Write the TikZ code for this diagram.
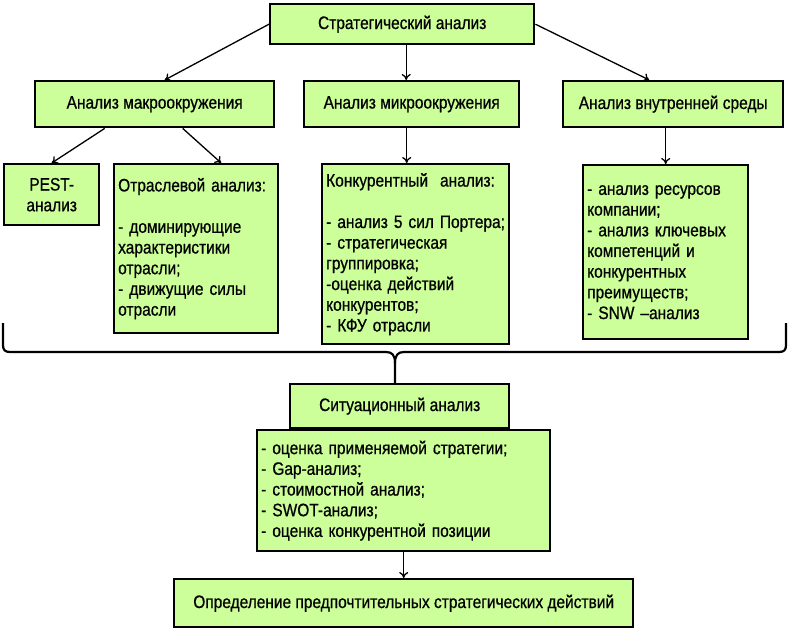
\documentclass[tikz,border=0pt]{standalone}
\usepackage{fontspec}
\setmainfont[FakeStretch=0.86, FakeBold=0.7]{Liberation Sans}
\usetikzlibrary{arrows.meta}
\definecolor{boxgreen}{RGB}{204,255,153}
\tikzset{
  box/.style={draw=black, line width=2.4pt, fill=boxgreen, anchor=north west,
    inner sep=4pt, align=center, font=\fontsize{18}{20.7}\selectfont},
  listbox/.style={box, align=left},
  arr/.style={-{To[length=6pt,width=9pt]}, line width=1.3pt},
  brc/.style={line width=2.2pt, line join=round}
}
\begin{document}
\begin{tikzpicture}[x=1pt, y=-1pt]
        \useasboundingbox (0,0) rectangle (789,628);

        % Top level
        \node[box, minimum width=264pt, minimum height=40pt] (strat) at (269,3) {Стратегический анализ};

        % Second level
        \node[box, minimum width=239pt, minimum height=46pt] (macro) at (34,80) {Анализ макроокружения};
        \node[box, minimum width=215pt, minimum height=46pt] (micro) at (303,80) {Анализ микроокружения};
        \node[box, minimum width=220pt, minimum height=46pt] (inner) at (562,80) {Анализ внутренней среды};

        % Third level
        \node[box, minimum width=95pt, minimum height=61pt] (pest) at (3,163) {PEST-\\анализ};
        \node[listbox, text width=156pt, minimum height=169pt] (branch) at (113,163) {
            Отраслевой анализ:\\[20.7pt]
            - доминирующие\\
            характеристики\\
            отрасли;\\
            - движущие силы\\
            отрасли
        };
        \node[listbox, text width=179pt, minimum height=180pt] (compet) at (321,163) {
            Конкурентный\ \ анализ:\\[20.7pt]
            -~анализ~5~сил~Портера;\\
            - стратегическая\\
            группировка;\\
            -оценка действий\\
            конкурентов;\\
            - КФУ отрасли
        };
        \node[listbox, text width=157pt, minimum height=174pt] (resour) at (582,164) {
            - анализ ресурсов\\
            компании;\\
            - анализ ключевых\\
            компетенций и\\
            конкурентных\\
            преимуществ;\\
            - SNW –анализ
        };

        % Situation analysis
        \node[box, minimum width=219pt, minimum height=44pt] (situ) at (289,383) {Ситуационный анализ};
        \node[listbox, text width=285pt, minimum height=121pt] (situlist) at (256,429) {
            - оценка применяемой стратегии;\\
            - Gap-анализ;\\
            - стоимостной анализ;\\
            - SWOT-анализ;\\
            - оценка конкурентной позиции
        };

        % Result
        \node[box, minimum width=459pt, minimum height=48pt] (final) at (173,578) {Определение предпочтительных стратегических действий};

        % Arrows
        \draw[arr] (strat.west) -- ([xshift=10pt]macro.north);
        \draw[arr] ([xshift=4pt]strat.south) -- ([xshift=4pt]strat.south |- micro.north);
        \draw[arr] (strat.east) -- ([xshift=-24pt]inner.north);
        \draw[arr] ([xshift=-50pt]macro.south) -- (pest.north);
        \draw[arr] ([xshift=28pt]macro.south) -- ([xshift=25pt]branch.north);
        \draw[arr] ([xshift=-5pt]micro.south) -- ([xshift=-5pt]micro.south |- compet.north);
        \draw[arr] (resour.north |- inner.south) -- (resour.north);
        \draw[arr] (situlist.south) -- (final.north);

        % Brace
        \draw[brc] (3,323) -- (3,345) .. controls (3,350) and (5,352) .. (10,352) -- (386,352)
            .. controls (392,352) and (395,355) .. (395,363) -- (395,383);
        \draw[brc] (395,363) .. controls (395,355) and (398,352) .. (404,352) -- (779,352)
            .. controls (784,352) and (786,350) .. (786,345) -- (786,323);
    \end{tikzpicture}
\end{document}
